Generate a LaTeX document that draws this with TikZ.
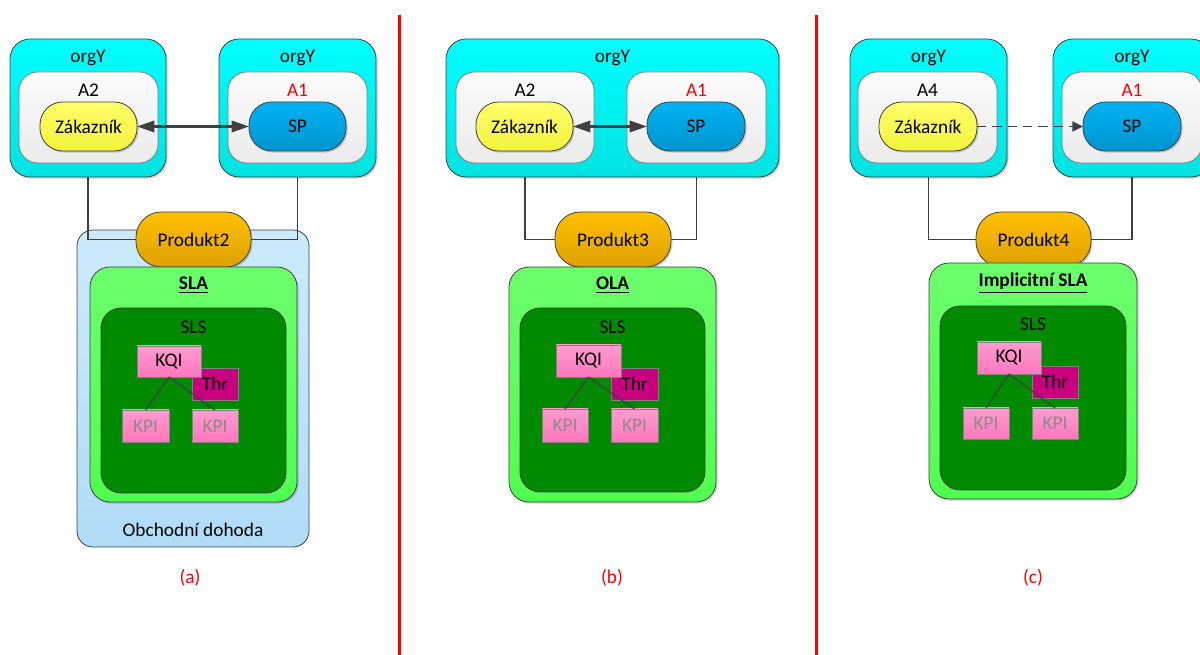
\documentclass[tikz,border=0pt]{standalone}
\usepackage{fontspec}
\setmainfont{Carlito}
\usetikzlibrary{arrows.meta,shadows}

\definecolor{linegray}{HTML}{404040}
\definecolor{cyanT}{HTML}{00FFFF}
\definecolor{cyanB}{HTML}{00E2E2}
\definecolor{appT}{HTML}{FBFBFB}
\definecolor{appB}{HTML}{EBEBEB}
\definecolor{yelT}{HTML}{FFFF6A}
\definecolor{yelB}{HTML}{F2F23C}
\definecolor{blueT}{HTML}{00B2F2}
\definecolor{blueB}{HTML}{0094CF}
\definecolor{orT}{HTML}{FFC000}
\definecolor{orB}{HTML}{DEA000}
\definecolor{ltblT}{HTML}{CCEAFC}
\definecolor{ltblB}{HTML}{B0DCF8}
\definecolor{slaT}{HTML}{6CFF6C}
\definecolor{slaB}{HTML}{4FFF4F}
\definecolor{slsG}{HTML}{008A00}
\definecolor{pinkT}{HTML}{FF9CD0}
\definecolor{pinkB}{HTML}{FF76BC}
\definecolor{thrC}{HTML}{C8007F}
\definecolor{kpiGray}{HTML}{8A8A8A}
\definecolor{sepRed}{HTML}{FF0000}

% box given by its top-left and bottom-right pixel corners
\newcommand\mkbox[7]{%
  \node[#1, minimum width={(#5-#3)*0.75pt}, minimum height={(#6-#4)*0.75pt}]
    (#2) at ({(#3+#5)/2},{(#4+#6)/2}) {#7};}

\tikzset{
  base/.style={inner sep=0pt, outer sep=0pt, draw=linegray, line width=0.6pt},
  shd/.style={drop shadow={shadow xshift=1.2pt, shadow yshift=-1.2pt, opacity=0.18, fill=black}},
  org/.style={base, shd, rounded corners=15pt, top color=cyanT, bottom color=cyanB},
  app/.style={base, draw=gray, rounded corners=14pt, top color=appT, bottom color=appB},
  cust/.style={base, shd, rounded corners=17pt, top color=yelT, bottom color=yelB},
  spbox/.style={base, shd, rounded corners=17pt, top color=blueT, bottom color=blueB},
  prod/.style={base, shd, rounded corners=19pt, top color=orT, bottom color=orB},
  deal/.style={base, rounded corners=12pt, top color=ltblT, bottom color=ltblB},
  agree/.style={base, shd, rounded corners=15pt, top color=slaT, bottom color=slaB},
  slsbox/.style={base, rounded corners=15pt, fill=slsG},
  kqi/.style={base, draw=gray, top color=pinkT, bottom color=pinkB},
  thr/.style={base, draw=gray, fill=thrC},
  kpi/.style={kqi, text=kpiGray},
  lbl/.style={inner sep=0pt},
  redlbl/.style={lbl, text=sepRed},
  conn/.style={draw=linegray, line width=0.9pt},
  tree/.style={draw=linegray, line width=0.9pt},
  biarrow/.style={draw=linegray, line width=1.8pt,
    {Triangle[length=13pt,width=8.5pt]}-{Triangle[length=13pt,width=8.5pt]}},
  dasharrow/.style={draw=linegray, line width=1.3pt, dash pattern=on 7pt off 4.5pt,
    -{Triangle[length=8pt,width=7.5pt]}},
  sep/.style={draw=sepRed, line width=2.6pt}
}

\begin{document}
\begin{tikzpicture}[x=0.75pt, y=-0.75pt, font=\fontsize{14.5}{17}\selectfont]
\useasboundingbox (0,0) rectangle (1200,655);

% separators between the three variants
\draw[sep] (399.5,15) -- (399.5,655);
\draw[sep] (816.5,15) -- (816.5,655);

%---------------- (a) ----------------
\mkbox{org}{orgL}{10}{39}{166}{177}{}
\mkbox{org}{orgR}{219}{39}{376}{177}{}
\node[lbl] (orgLt) at (88,58) {orgY};
\node[lbl] (orgRt) at (297.5,58) {orgY};
\mkbox{app}{appL}{19}{72}{158}{163}{}
\mkbox{app}{appR}{228}{72}{367}{163}{}
\node[lbl] (appLt) at (88.5,90) {A2};
\node[redlbl] (appRt) at (297.5,90) {A1};
\mkbox{cust}{custA}{40}{102}{137}{151}{Zákazník}
\mkbox{spbox}{spA}{249}{102}{346}{151}{SP}
\draw[biarrow] (custA.east) -- (spA.west);

\mkbox{deal}{dealA}{77}{230}{309}{547}{}
\mkbox{prod}{prodA}{136}{212}{251}{267}{Produkt2}
\draw[conn] (orgL.south) |- (prodA.west);
\draw[conn] (orgR.south) |- (prodA.east);
\mkbox{agree}{slaA}{90}{267}{297}{502}{}
\node[lbl] (slaAt) at (193.5,285) {\underline{\textbf{SLA}}};
\mkbox{slsbox}{slsA}{101}{308}{286}{493}{}
\node[lbl] (slsAt) at (193.5,327) {SLS};
\mkbox{thr}{thrA}{192}{368}{238}{400}{Thr}
\mkbox{kpi}{kpiA1}{122}{410}{169}{442}{KPI}
\mkbox{kpi}{kpiA2}{192}{410}{238}{442}{KPI}
\mkbox{kqi}{kqiA}{137}{346}{201}{377}{KQI}
\draw[tree] (kqiA.south) -- (kpiA1.north);
\draw[tree] (kqiA.south) -- (kpiA2.north);
\node[lbl] (dealAt) at (193,530) {Obchodní dohoda};
\node[redlbl] (capA) at (190,578) {(a)};

%---------------- (b) ----------------
\mkbox{org}{orgB}{446}{39}{779}{177}{}
\node[lbl] (orgBt) at (612.5,58) {orgY};
\mkbox{app}{appB1}{456}{72}{594}{163}{}
\mkbox{app}{appB2}{627}{72}{766}{163}{}
\node[lbl] (appB1t) at (525,90) {A2};
\node[redlbl] (appB2t) at (696.5,90) {A1};
\mkbox{cust}{custB}{476}{102}{573}{151}{Zákazník}
\mkbox{spbox}{spB}{647}{102}{745}{151}{SP}
\draw[biarrow] (custB.east) -- (spB.west);

\mkbox{prod}{prodB}{555}{212}{671}{267}{Produkt3}
\draw[conn] (appB1.south |- orgB.south) |- (prodB.west);
\draw[conn] (appB2.south |- orgB.south) |- (prodB.east);
\mkbox{agree}{olaB}{509}{267}{716}{502}{}
\node[lbl] (olaBt) at (612.5,285) {\underline{\textbf{OLA}}};
\mkbox{slsbox}{slsB}{520}{308}{705}{492}{}
\node[lbl] (slsBt) at (612.5,327) {SLS};
\mkbox{thr}{thrB}{611}{368}{658}{400}{Thr}
\mkbox{kpi}{kpiB1}{542}{409}{588}{442}{KPI}
\mkbox{kpi}{kpiB2}{611}{409}{658}{442}{KPI}
\mkbox{kqi}{kqiB}{556}{345}{621}{377}{KQI}
\draw[tree] (kqiB.south) -- (kpiB1.north);
\draw[tree] (kqiB.south) -- (kpiB2.north);
\node[redlbl] (capB) at (612,578) {(b)};

%---------------- (c) ----------------
\mkbox{org}{orgC1}{850}{39}{1007}{177}{}
\mkbox{org}{orgC2}{1053}{39}{1211}{177}{}
\node[lbl] (orgC1t) at (928.5,58) {orgY};
\node[lbl] (orgC2t) at (1132,58) {orgY};
\mkbox{app}{appC1}{858}{72}{997}{163}{}
\mkbox{app}{appC2}{1062}{72}{1202}{163}{}
\node[lbl] (appC1t) at (927.5,90) {A4};
\node[redlbl] (appC2t) at (1132,90) {A1};
\mkbox{cust}{custC}{879}{102}{977}{151}{Zákazník}
\mkbox{spbox}{spC}{1083}{102}{1181}{151}{SP}
\draw[dasharrow] (custC.east) -- (spC.west);

\mkbox{prod}{prodC}{976}{212}{1091}{267}{Produkt4}
\draw[conn] (orgC1.south) |- (prodC.west);
\draw[conn] (orgC2.south) |- (prodC.east);
\mkbox{agree}{islaC}{929}{263}{1137}{499}{}
\node[lbl] (islaCt) at (1033,283) {\underline{\textbf{Implicitní SLA}}};
\mkbox{slsbox}{slsC}{940}{306}{1126}{490}{}
\node[lbl] (slsCt) at (1033,324) {SLS};
\mkbox{thr}{thrCb}{1032}{366}{1078}{398}{Thr}
\mkbox{kpi}{kpiC1}{963}{408}{1009}{439}{KPI}
\mkbox{kpi}{kpiC2}{1032}{408}{1078}{439}{KPI}
\mkbox{kqi}{kqiC}{977}{342}{1041}{374}{KQI}
\draw[tree] (kqiC.south) -- (kpiC1.north);
\draw[tree] (kqiC.south) -- (kpiC2.north);
\node[redlbl] (capC) at (1033,578) {(c)};
\end{tikzpicture}
\end{document}
